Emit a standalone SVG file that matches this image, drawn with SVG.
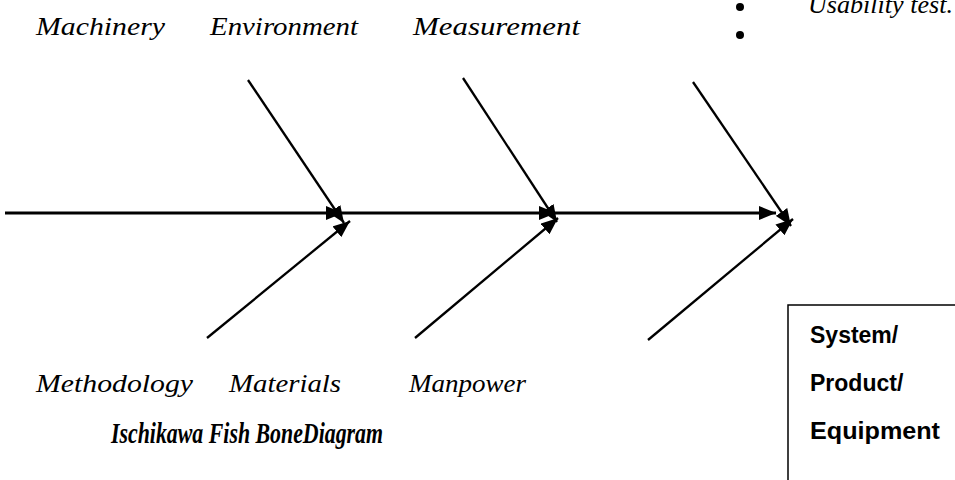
<svg xmlns="http://www.w3.org/2000/svg" width="955" height="480" viewBox="0 0 955 480">
<defs>
<marker id="ah" markerUnits="userSpaceOnUse" markerWidth="18" markerHeight="14" refX="17" refY="7" orient="auto">
<path d="M0,0 L17,7 L0,14 Z" fill="#000"/>
</marker>
<style>
.lbl{font-family:"Liberation Serif","DejaVu Serif",serif;font-style:italic;font-size:25px;fill:#000}
.ttl{font-family:"Liberation Serif","DejaVu Serif",serif;font-style:italic;font-weight:bold;font-size:29px;fill:#000}
.box{font-family:"Liberation Sans","Open Sans",sans-serif;font-weight:bold;font-size:23px;fill:#000}
.bone{stroke:#000;stroke-width:2.3;fill:none;marker-end:url(#ah)}
.spine{stroke:#000;stroke-width:3;fill:none;marker-end:url(#ah)}
</style>
</defs>
<rect width="955" height="480" fill="#fff"/>
<g id="connectors">
<line class="spine" x1="5" y1="213" x2="343" y2="213"/>
<line class="spine" x1="343" y1="213" x2="556" y2="213"/>
<line class="spine" x1="556" y1="213" x2="776" y2="213"/>
<line class="bone" x1="248" y1="80" x2="344" y2="223"/>
<line class="bone" x1="463" y1="78" x2="557" y2="222"/>
<line class="bone" x1="693" y1="82" x2="791" y2="226"/>
<line class="bone" x1="207" y1="338" x2="350" y2="221"/>
<line class="bone" x1="415" y1="338" x2="558" y2="218"/>
<line class="bone" x1="648" y1="340" x2="793" y2="219"/>
</g>
<g id="labels-top">
<text class="lbl" x="36" y="35" textLength="129" lengthAdjust="spacingAndGlyphs">Machinery</text>
<text class="lbl" x="210" y="35" textLength="148" lengthAdjust="spacingAndGlyphs">Environment</text>
<text class="lbl" x="413" y="35" textLength="167" lengthAdjust="spacingAndGlyphs">Measurement</text>
</g>
<g id="labels-bottom">
<text class="lbl" x="36" y="392" textLength="157" lengthAdjust="spacingAndGlyphs">Methodology</text>
<text class="lbl" x="229" y="392" textLength="112" lengthAdjust="spacingAndGlyphs">Materials</text>
<text class="lbl" x="409" y="392" textLength="117" lengthAdjust="spacingAndGlyphs">Manpower</text>
</g>
<g id="title">
<text class="ttl" x="111" y="443" textLength="272" lengthAdjust="spacingAndGlyphs">Ischikawa Fish BoneDiagram</text>
</g>
<g id="bullets">
<circle cx="740" cy="7" r="4" fill="#000"/>
<circle cx="740" cy="35" r="4" fill="#000"/>
<text class="lbl" x="808" y="13" textLength="145" lengthAdjust="spacingAndGlyphs">Usability test.</text>
</g>
<g id="effect-box">
<rect x="788" y="305" width="180" height="190" fill="#fff" stroke="#000" stroke-width="1.5"/>
<text class="box" x="810" y="343">System/</text>
<text class="box" x="810" y="391">Product/</text>
<text class="box" x="810" y="439" textLength="130" lengthAdjust="spacingAndGlyphs">Equipment</text>
</g>
</svg>
